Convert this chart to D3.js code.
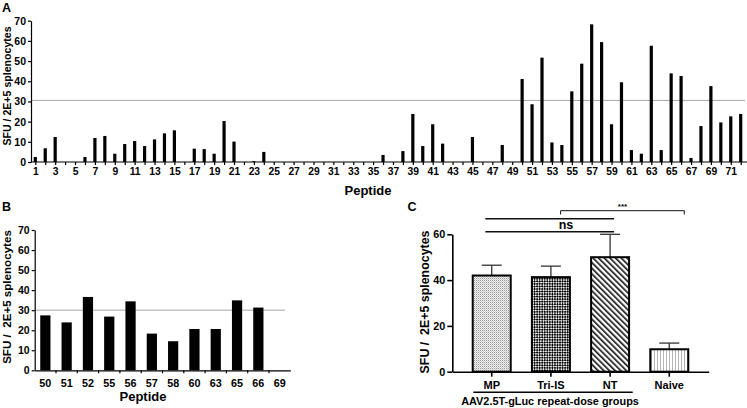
<!DOCTYPE html>
<html><head><meta charset="utf-8">
<script src="https://cdn.jsdelivr.net/npm/d3@7"></script>
<style>
html,body{margin:0;padding:0;background:#fff;}
svg{display:block;font-family:"Liberation Sans",Arial,sans-serif;font-weight:bold;}
</style></head>
<body><svg id="c" width="747" height="408"></svg>
<script>
// ---- Data ----
const peptidesA = d3.range(1, 73);
const valuesA = [2.5,6.8,12.4,0,0,2.5,11.9,12.9,4.1,8.9,
  10.4,7.9,11.2,14.2,15.7,0,6.6,6.4,4.1,20.3,
  10.1,0,0.4,5.0,0,0,0,0,0,0,
  0,0,0,0,0,3.5,0,5.4,23.8,7.9,
  18.7,9.1,0,0,12.4,0,0,8.4,0,41.1,
  28.6,51.7,9.7,8.4,35.0,48.7,68.2,59.4,18.7,39.5,
  5.9,4.1,57.6,5.9,43.9,42.6,2.0,17.8,37.6,19.6,
  22.6,23.8];
const thresholdA = 30.5;
const yTicksAB = [0,10,20,30,40,50,60,70];

const peptidesB = ["50","51","52","55","56","57","58","60","63","65","66","69"];
const valuesB = [27.4,23.9,36.6,26.8,34.4,18.3,14.5,20.6,20.6,34.9,31.3,0];
const thresholdB = 30;

const groupsC = ["MP","Tri-IS","NT","Naive"];
const meansC = [42.0,41.3,50.0,9.8];
const semC = [4.5,4.8,10.0,2.7];
const yTicksC = [0,20,40,60];
const patternsC = ["pMP","pTri","pNT","pNaive"];

const svg = d3.select("#c");
const F = '"Liberation Sans",Arial,sans-serif';

// ---- patterns ----
const defs = svg.append("defs");
let p = defs.append("pattern").attr("id","pMP").attr("width",2).attr("height",2).attr("patternUnits","userSpaceOnUse");
p.append("rect").attr("width",2).attr("height",2).attr("fill","#f0f0f0");
p.append("rect").attr("width",1).attr("height",1).attr("fill","#999");
p.append("rect").attr("x",1).attr("y",1).attr("width",1).attr("height",1).attr("fill","#cccccc");
p = defs.append("pattern").attr("id","pTri").attr("width",3.6).attr("height",3.6).attr("patternUnits","userSpaceOnUse").attr("patternTransform","rotate(45)");
p.append("rect").attr("width",3.6).attr("height",3.6).attr("fill","#fff");
p.append("rect").attr("width",2).attr("height",2).attr("fill","#000");
p.append("rect").attr("x",1.8).attr("y",1.8).attr("width",2).attr("height",2).attr("fill","#000");
p = defs.append("pattern").attr("id","pNT").attr("width",4).attr("height",4).attr("patternUnits","userSpaceOnUse").attr("patternTransform","rotate(-45)");
p.append("rect").attr("width",4).attr("height",4).attr("fill","#fff");
p.append("rect").attr("width",1.6).attr("height",4).attr("fill","#111");
p = defs.append("pattern").attr("id","pNaive").attr("width",3).attr("height",3).attr("patternUnits","userSpaceOnUse");
p.append("rect").attr("width",3).attr("height",3).attr("fill","#fff");
p.append("rect").attr("width",1).attr("height",3).attr("fill","#b5b5b5");

function styleAxis(g, sw){
  g.select(".domain").attr("stroke","#000").attr("stroke-width",sw);
  g.selectAll(".tick line").attr("stroke","#000").attr("stroke-width",sw);
  g.selectAll(".tick text").attr("fill","#000").attr("font-family",F).attr("font-weight","bold");
}

// ================= Panel A =================
{
  const x = d3.scaleLinear().domain([1,72]).range([35.3,740.7]);
  const y = d3.scaleLinear().domain([0,70]).range([162,20.7]);
  const g = svg.append("g");
  g.append("line").attr("x1",31).attr("x2",745).attr("y1",y(thresholdA)).attr("y2",y(thresholdA))
    .attr("stroke","#a8a8a8").attr("stroke-width",1);
  g.selectAll("rect.bar").data(valuesA).join("rect").attr("class","bar")
    .attr("x",(d,i)=>x(peptidesA[i])-1.6).attr("width",3.2)
    .attr("y",d=>y(d)).attr("height",d=>y(0)-y(d)).attr("fill","#000");
  const ya = g.append("g").attr("transform","translate(31,0)")
    .call(d3.axisLeft(y).tickValues(yTicksAB).tickSize(3).tickPadding(2).tickSizeOuter(0));
  ya.selectAll("text").attr("font-size",10.5);
  styleAxis(ya,1.2);
  const xa = g.append("g").attr("transform",`translate(0,${y(0)})`)
    .call(d3.axisBottom(x).tickValues(peptidesA).tickSize(3).tickPadding(3).tickSizeOuter(0)
      .tickFormat(d=> d%2===1 ? d : ""));
  xa.select(".domain").attr("d","M31,0H747");
  xa.selectAll("text").attr("font-size",10.3);
  styleAxis(xa,1.2);
  g.append("text").attr("x",368).attr("y",195).attr("text-anchor","middle")
    .attr("font-size",13).text("Peptide");
  g.append("text").attr("transform",`translate(10.8,86) rotate(-90)`).attr("text-anchor","middle")
    .attr("font-size",10.6).text("SFU / 2E+5 splenocytes");
  g.append("text").attr("x",2).attr("y",12).attr("font-size",12.5).text("A");
}

// ================= Panel B =================
{
  const x = d3.scaleBand().domain(peptidesB).range([34.7,290.3]).paddingInner(0.52).paddingOuter(0.26);
  const y = d3.scaleLinear().domain([0,70]).range([370.3,230]);
  const g = svg.append("g");
  g.append("line").attr("x1",34.7).attr("x2",285).attr("y1",y(thresholdB)).attr("y2",y(thresholdB))
    .attr("stroke","#a8a8a8").attr("stroke-width",1);
  g.selectAll("rect.bar").data(valuesB).join("rect").attr("class","bar")
    .attr("x",(d,i)=>x(peptidesB[i])).attr("width",x.bandwidth())
    .attr("y",d=>y(d)).attr("height",d=>y(0)-y(d)).attr("fill","#000");
  const ya = g.append("g").attr("transform","translate(34.7,0)")
    .call(d3.axisLeft(y).tickValues(yTicksAB).tickSize(3).tickPadding(2).tickSizeOuter(0));
  ya.selectAll("text").attr("font-size",10.5);
  styleAxis(ya,1.2);
  const xa = g.append("g").attr("transform",`translate(0,${y(0)})`)
    .call(d3.axisBottom(x).tickSize(0).tickPadding(9).tickSizeOuter(0));
  xa.selectAll("text").attr("font-size",10.8);
  styleAxis(xa,1.2);
  const step = x.step();
  const bounds = peptidesB.slice(1).map(c => x(c) - (step - x.bandwidth())/2);
  xa.selectAll("line.bnd").data(bounds).join("line").attr("class","bnd")
    .attr("x1",d=>d).attr("x2",d=>d).attr("y1",0).attr("y2",3).attr("stroke","#000").attr("stroke-width",1.2);
  g.append("text").attr("x",143).attr("y",401).attr("text-anchor","middle")
    .attr("font-size",13).text("Peptide");
  g.append("text").attr("transform",`translate(11,297) rotate(-90)`).attr("text-anchor","middle")
    .attr("font-size",11.6).style("white-space","pre").text("SFU /  2E+5 splenocytes");
  g.append("text").attr("x",2).attr("y",210.5).attr("font-size",12.5).text("B");
}

// ================= Panel C =================
{
  const x = d3.scaleBand().domain(groupsC).range([452.3,708.7]).paddingInner(0.358).paddingOuter(0.345);
  const y = d3.scaleLinear().domain([0,60]).range([371.7,234.3]);
  const g = svg.append("g");
  groupsC.forEach((c,i)=>{
    const cx = x(c) + x.bandwidth()/2;
    g.append("line").attr("x1",cx).attr("x2",cx).attr("y1",y(meansC[i])).attr("y2",y(meansC[i]+semC[i]))
      .attr("stroke","#333").attr("stroke-width",1.3);
    g.append("line").attr("x1",cx-10).attr("x2",cx+10).attr("y1",y(meansC[i]+semC[i])).attr("y2",y(meansC[i]+semC[i]))
      .attr("stroke","#333").attr("stroke-width",1.3);
  });
  g.selectAll("rect.bar").data(meansC).join("rect").attr("class","bar")
    .attr("x",(d,i)=>x(groupsC[i])).attr("width",x.bandwidth())
    .attr("y",d=>y(d)).attr("height",d=>y(0)-y(d))
    .attr("fill",(d,i)=>`url(#${patternsC[i]})`).attr("stroke","#000").attr("stroke-width",2);
  const ya = g.append("g").attr("transform","translate(452.3,0)")
    .call(d3.axisLeft(y).tickValues(yTicksC).tickSize(5).tickPadding(2).tickSizeOuter(0));
  ya.selectAll("text").attr("font-size",10.8);
  styleAxis(ya,1.6);
  const xa = g.append("g").attr("transform",`translate(0,${y(0)})`)
    .call(d3.axisBottom(x).tickSize(5).tickPadding(5).tickSizeOuter(0));
  xa.selectAll("text").attr("font-size",11);
  styleAxis(xa,1.6);
  const gx1 = x("MP") + x.bandwidth()/2 - 18.4, gx2 = x("NT") + x.bandwidth()/2 + 22.6;
  g.append("line").attr("x1",gx1).attr("x2",gx2).attr("y1",392.3).attr("y2",392.3).attr("stroke","#000").attr("stroke-width",1.5);
  g.append("text").attr("x",550).attr("y",405).attr("text-anchor","middle").attr("font-size",10.9)
    .text("AAV2.5T-gLuc repeat-dose groups");
  const n1 = x("MP") + x.bandwidth()/2 - 6.4, n2 = x("NT") + x.bandwidth()/2 + 4;
  g.append("line").attr("x1",n1).attr("x2",n2).attr("y1",218.7).attr("y2",218.7).attr("stroke","#111").attr("stroke-width",1.6);
  g.append("line").attr("x1",n1).attr("x2",n2).attr("y1",231.7).attr("y2",231.7).attr("stroke","#111").attr("stroke-width",1.6);
  g.append("text").attr("x",566).attr("y",228.5).attr("text-anchor","middle").attr("font-size",12.5).text("ns");
  const b1 = x("Tri-IS") + x.bandwidth()/2 + 9.7, b2 = x("Naive") + x.bandwidth()/2 + 15;
  g.append("path").attr("d",`M${b1},214.5V210.7H${b2}V214.5`).attr("fill","none").attr("stroke","#111").attr("stroke-width",1);
  g.append("text").attr("x",(b1+b2)/2).attr("y",209).attr("text-anchor","middle").attr("font-size",8).text("***");
  g.append("text").attr("transform",`translate(429,302) rotate(-90)`).attr("text-anchor","middle")
    .attr("font-size",12.4).style("white-space","pre").text("SFU /  2E+5 splenocytes");
  g.append("text").attr("x",407.5).attr("y",211).attr("font-size",12.5).text("C");
}
</script></body></html>
